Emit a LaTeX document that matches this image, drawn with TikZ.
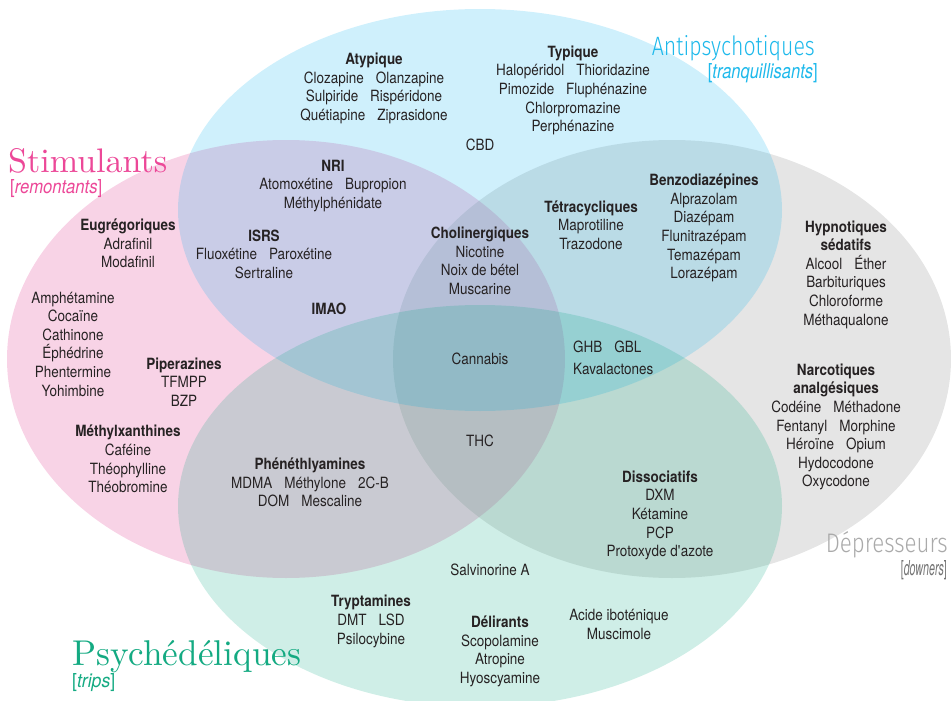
\documentclass[tikz,border=0pt]{standalone}
\usepackage{fontspec}
\usepackage{graphicx}
\setsansfont{TeX Gyre Heros}[FakeStretch=0.87]
\renewcommand{\familydefault}{\sfdefault}
\IfFontExistsTF{Fira Sans Light}{\newfontfamily\thinfont{Fira Sans Light}}{\newfontfamily\thinfont{TeX Gyre Heros}[FakeStretch=0.7]}
\newcommand{\gap}{\hspace{12pt}}
\definecolor{ink}{RGB}{38,34,35}
\definecolor{pinkC}{RGB}{228,80,155}
\definecolor{greyC}{RGB}{150,150,150}
\definecolor{blueC}{RGB}{0,175,239}
\definecolor{greenC}{RGB}{0,166,126}
\definecolor{pinkT}{RGB}{236,72,152}
\definecolor{blueT}{RGB}{30,185,235}
\definecolor{greyT}{RGB}{170,170,170}
\definecolor{greyT2}{RGB}{115,115,115}
\definecolor{greenT}{RGB}{20,170,130}
\tikzset{
  txt/.style={align=center, inner sep=0pt, text=ink, font=\fontsize{15.5}{18.6}\selectfont},
  lab/.style={inner sep=0pt},
}
\begin{document}
\begin{tikzpicture}[x=1pt,y=-1pt]
\useasboundingbox (0,0) rectangle (951,701);
\begin{scope}
\clip (0,0) rectangle (951,701);
\fill[pinkC, fill opacity=0.25] (286,359) ellipse [x radius=279pt, y radius=219pt];
\fill[greyC, fill opacity=0.25] (672,359) ellipse [x radius=279pt, y radius=219pt];
\fill[blueC, fill opacity=0.19] (480,210) ellipse [x radius=302pt, y radius=201pt];
\fill[greenC, fill opacity=0.19] (480,506) ellipse [x radius=302pt, y radius=201pt];
\end{scope}

% category labels
\node[lab, anchor=base west, text=pinkT] (stim) at (8,172) {\resizebox{159pt}{24pt}{\rmfamily Stimulants}};
\node[lab, anchor=base west, text=pinkT] (stimsub) at (10,193) {\resizebox{92pt}{14pt}{[\textit{remontants}]}};
\node[lab, anchor=base east, text=blueT] (anti) at (815,56) {\resizebox{163pt}{20pt}{\thinfont Antipsychotiques}};
\node[lab, anchor=base east, text=blueT] (antisub) at (818,79) {\resizebox{110pt}{15pt}{[\textit{tranquillisants}]}};
\node[lab, anchor=base east, text=greyT] (dep) at (948,552) {\resizebox{122pt}{21pt}{\thinfont Dépresseurs}};
\node[lab, anchor=base east, text=greyT2] (depsub) at (947,575) {\resizebox{46pt}{15pt}{[\textit{downers}]}};
\node[lab, anchor=base west, text=greenT] (psy) at (72,665) {\resizebox{229pt}{25pt}{\rmfamily Psychédéliques}};
\node[lab, anchor=base west, text=greenT] (psysub) at (72,687) {\resizebox{43pt}{14pt}{[\textit{trips}]}};

% antipsychotiques
\node[txt] (atyp) at (374,88.5) {\textbf{Atypique}\\Clozapine\gap Olanzapine\\Sulpiride\gap Rispéridone\\Quétiapine\gap Ziprasidone};
\node[txt] (typ) at (573,90.5) {\textbf{Typique}\\Halopéridol\gap Thioridazine\\Pimozide\gap Fluphénazine\\Chlorpromazine\\Perphénazine};
\node[txt] (cbd) at (480,145) {CBD};

% stimulants
\node[txt] (eug) at (128,243.5) {\textbf{Eugrégoriques}\\Adrafinil\\Modafinil};
\node[txt] (amph) at (73,344) {Amphétamine\\Cocaïne\\Cathinone\\Éphédrine\\Phentermine\\Yohimbine};
\node[txt] (pip) at (184,382) {\textbf{Piperazines}\\TFMPP\\BZP};
\node[txt] (mxan) at (128,459) {\textbf{Méthylxanthines}\\Caféine\\Théophylline\\Théobromine};

% stimulants + antipsychotiques
\node[txt] (nri) at (333,186) {\textbf{NRI}\\Atomoxétine\gap Bupropion\\Méthylphénidate};
\node[txt] (isrs) at (264,254) {\textbf{ISRS}\\Fluoxétine\gap Paroxétine\\Sertraline};
\node[txt] (imao) at (329,309) {\textbf{IMAO}};

% centre
\node[txt] (chol) at (480,261) {\textbf{Cholinergiques}\\Nicotine\\Noix de bétel\\Muscarine};
\node[txt] (tetra) at (591,225) {\textbf{Tétracycliques}\\Maprotiline\\Trazodone};
\node[txt] (benzo) at (704,228) {\textbf{Benzodiazépines}\\Alprazolam\\Diazépam\\Flunitrazépam\\Temazépam\\Lorazépam};
\node[txt] (cann) at (480,359) {Cannabis};
\node[txt, anchor=west] (ghb) at (573,347) {GHB\gap GBL};
\node[txt, anchor=west] (kava) at (573,369) {Kavalactones};
\node[txt] (thc) at (480,441) {THC};

% dépresseurs
\node[txt] (hyp) at (846,274.5) {\textbf{Hypnotiques}\\\textbf{sédatifs}\\Alcool\gap Éther\\Barbituriques\\Chloroforme\\Méthaqualone};
\node[txt] (narc) at (836,427) {\textbf{Narcotiques}\\\textbf{analgésiques}\\Codéine\gap Méthadone\\Fentanyl\gap Morphine\\Héroïne\gap Opium\\Hydocodone\\Oxycodone};

% psychédéliques
\node[txt] (phen) at (310,482.5) {\textbf{Phénéthlyamines}\\MDMA\gap Méthylone\gap 2C-B\\DOM\gap Mescaline};
\node[txt] (diss) at (660,515.5) {\textbf{Dissociatifs}\\DXM\\Kétamine\\PCP\\Protoxyde d\textquotesingle azote};
\node[txt] (salv) at (490,570) {Salvinorine A};
\node[txt] (tryp) at (371,621.5) {\textbf{Tryptamines}\\DMT\gap LSD\\Psilocybine};
\node[txt] (deli) at (500,651.5) {\textbf{Délirants}\\Scopolamine\\Atropine\\Hyoscyamine};
\node[txt] (acid) at (619,624.5) {Acide iboténique\\Muscimole};
\end{tikzpicture}
\end{document}
